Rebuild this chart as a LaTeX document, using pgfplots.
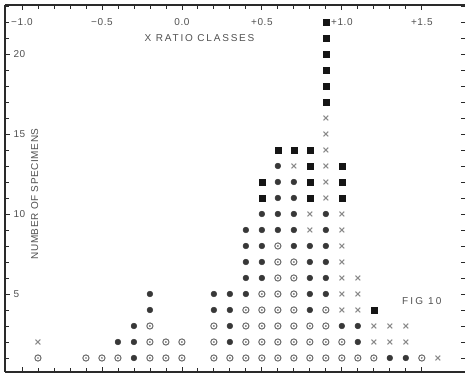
\documentclass[border=0pt]{standalone}
\usepackage{fontspec}
\setmainfont{Liberation Sans}
\newfontfamily\lett[LetterSpace=6]{Liberation Sans}
\newfontfamily\lettw[LetterSpace=18]{Liberation Sans}
\newfontfamily\lettf[LetterSpace=22]{Liberation Sans}
\usepackage{pgfplots}
\pgfplotsset{compat=1.18}
\definecolor{ink}{HTML}{505050}
\definecolor{dotc}{HTML}{383838}
\definecolor{ringc}{HTML}{6A6A6A}
\definecolor{crossc}{HTML}{8A8A8A}
\definecolor{sqc}{HTML}{151515}
\definecolor{axc}{HTML}{2A2A2A}
\pgfdeclareplotmark{odot}{%
  \pgfpathcircle{\pgfpointorigin}{\pgfplotmarksize}\pgfusepathqstroke
  \pgfpathcircle{\pgfpointorigin}{0.3\pgfplotmarksize}\pgfusepathqfill}
\newcommand{\lab}{\lett\fontsize{10}{12}\selectfont}
\newcommand{\labw}{\lettw\fontsize{10}{12}\selectfont}
\newcommand{\labf}{\lettf\fontsize{10}{12}\selectfont}
\begin{document}
\begin{tikzpicture}
\useasboundingbox (-5pt,-5pt) rectangle (463pt,372pt);
\begin{axis}[
  scale only axis, width=460pt, height=367pt,
  at={(0,0)}, anchor=south west,
  xmin=-1.106, xmax=1.77, ymin=0.125, ymax=23.06,
  axis x line*=box, axis y line*=left,
  axis line style={axc, line width=1.2pt},
  tick align=inside,
  major tick length=5pt, minor tick length=4pt,
  tick style={axc, line width=0.8pt},
  minor tick style={axc, line width=0.8pt},
  xtick={-1,-0.5,0,0.5,1,1.5},
  xticklabels={−1.0,−0.5,0.0,+0.5,+1.0,+1.5},
  minor x tick num=4,
  xticklabel pos=upper,
  xticklabel style={anchor=center, yshift=-17pt, font=\lab, text=ink},
  ytick={5,10,15,20},
  yticklabels={5,10,15,20},
  minor ytick={1,...,23},
  yticklabel style={anchor=west, xshift=5pt, font=\lab, text=ink},
  clip=false,
]
\addplot[only marks, mark=odot, mark size=3.1pt, ringc, line width=1pt] coordinates {
(-0.9,1) (-0.6,1) (-0.5,1) (-0.4,1)
(-0.2,1) (-0.2,2) (-0.2,3)
(-0.1,1) (-0.1,2) (0,1) (0,2)
(0.2,1) (0.2,2) (0.2,3) (0.3,1)
(0.4,1) (0.4,2) (0.4,3) (0.4,4)
(0.5,1) (0.5,2) (0.5,3) (0.5,4) (0.5,5)
(0.6,1) (0.6,2) (0.6,3) (0.6,4) (0.6,5) (0.6,6) (0.6,7) (0.6,8)
(0.7,1) (0.7,2) (0.7,3) (0.7,4) (0.7,5) (0.7,6) (0.7,7)
(0.8,1) (0.8,2) (0.8,3)
(0.9,1) (0.9,2) (0.9,3) (0.9,4)
(1.0,1) (1.0,2) (1.1,1) (1.2,1) (1.5,1)
};
\addplot[only marks, mark=*, mark size=2.9pt, dotc] coordinates {
(-0.4,2) (-0.3,1) (-0.3,2) (-0.3,3) (-0.2,4) (-0.2,5)
(0.2,4) (0.2,5) (0.3,2) (0.3,3) (0.3,4) (0.3,5)
(0.4,5) (0.4,6) (0.4,7) (0.4,8) (0.4,9)
(0.5,6) (0.5,7) (0.5,8) (0.5,9) (0.5,10)
(0.6,9) (0.6,10) (0.6,11) (0.6,12) (0.6,13)
(0.7,8) (0.7,9) (0.7,10) (0.7,11) (0.7,12)
(0.8,4) (0.8,5) (0.8,6) (0.8,7) (0.8,8)
(0.9,5) (0.9,6) (0.9,7) (0.9,8) (0.9,9) (0.9,10)
(1.0,3) (1.1,2) (1.1,3) (1.3,1) (1.4,1)
};
\addplot[only marks, mark=x, mark size=3.4pt, crossc, line width=1pt] coordinates {
(-0.9,2) (0.7,13) (0.8,9) (0.8,10)
(0.9,11) (0.9,12) (0.9,13) (0.9,14) (0.9,15) (0.9,16)
(1.0,4) (1.0,5) (1.0,6) (1.0,7) (1.0,8) (1.0,9) (1.0,10)
(1.1,4) (1.1,5) (1.1,6)
(1.2,2) (1.2,3) (1.3,2) (1.3,3) (1.4,2) (1.4,3) (1.6,1)
};
\addplot[only marks, mark=square*, mark size=3.1pt, sqc] coordinates {
(0.5,11) (0.5,12) (0.6,14) (0.7,14)
(0.8,11) (0.8,12) (0.8,13) (0.8,14)
(0.9,17) (0.9,18) (0.9,19) (0.9,20) (0.9,21) (0.9,22)
(1.0,11) (1.0,12) (1.0,13) (1.2,4)
};
\node[rotate=90, font=\lab, text=ink] at (axis cs:-0.92,11.25) {NUMBER OF SPECIMENS};
\node[font=\labw, text=ink] at (axis cs:0.11,21) {X RATIO CLASSES};
\node[font=\labf, text=ink] at (axis cs:1.5,4.55) {FIG 10};
\end{axis}
\begin{axis}[
  scale only axis, width=460pt, height=367pt,
  at={(0,0)}, anchor=south west,
  xmin=-1.106, xmax=1.77, ymin=0.125, ymax=23.06,
  hide x axis,
  axis y line*=right,
  y axis line style={draw=none},
  tick align=inside,
  major tick length=4pt,
  tick style={axc, line width=0.8pt},
  ytick={1,...,23}, yticklabels={},
]
\end{axis}
\end{tikzpicture}
\end{document}
